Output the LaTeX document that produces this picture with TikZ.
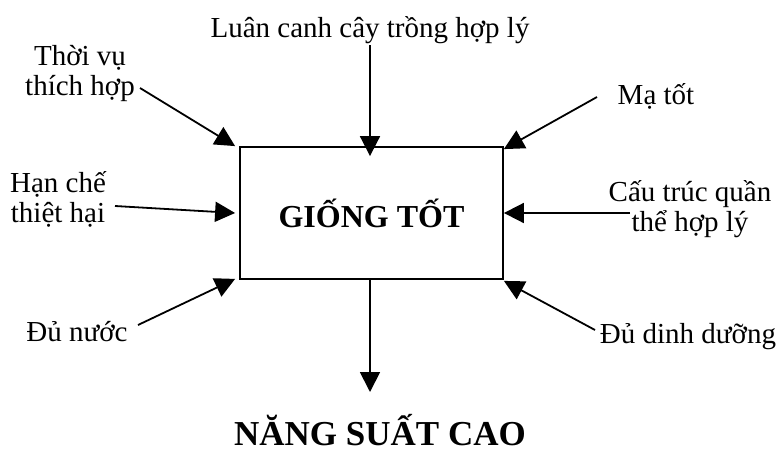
\documentclass[tikz,border=0pt]{standalone}
\usepackage{fontspec}
\setmainfont{Liberation Serif}
\usetikzlibrary{arrows.meta}
\begin{document}
\begin{tikzpicture}[x=1pt,y=-1pt,
  lbl/.style={inner sep=0pt,align=center,font=\fontsize{29}{30}\selectfont},
  arr/.style={line width=1.8pt,-{Triangle[length=20pt,width=20pt]}},
  mainbox/.style={draw,line width=1.8pt,minimum width=263pt,minimum height=132pt,inner sep=0pt,
    font=\fontsize{32}{34}\selectfont\bfseries}]
\useasboundingbox (0,0) rectangle (778,455);
\node[mainbox] (box) at (371.5,213) {GIỐNG TỐT};
\node[lbl] (luan) at (370,30) {Luân canh cây trồng hợp lý};
\node[lbl] (thoivu) at (80,74) {Thời vụ\\thích hợp};
\node[lbl] (hanche) at (58,199) {Hạn chế\\thiệt hại};
\node[lbl] (du) at (77,332) {Đủ nước};
\node[lbl] (mato) at (656,96) {Mạ tốt};
\node[lbl] (cautruc) at (690,209) {Cấu trúc quần\\thể hợp lý};
\node[lbl] (dinh) at (688,337) {Đủ dinh dưỡng};
\node[inner sep=0pt,anchor=base,font=\fontsize{35}{38}\selectfont\bfseries] (nang) at (380,445) {NĂNG SUẤT CAO};
\coordinate (s1) at (140,88);
\coordinate (s2) at (115,206);
\coordinate (s3) at (138,325);
\coordinate (s4) at (597,97);
\coordinate (s5) at (630,213);
\coordinate (s6) at (595,330);
\coordinate (e0) at (370,392);
\draw[arr] (luan.south |- 0,45) -- ([yshift=-10pt]box.north -| luan.south);
\draw[arr] (s1) -- ([shift={(-4pt,0pt)}]box.north west);
\draw[arr] (s2) -- ([xshift=-4pt]box.west);
\draw[arr] (s3) -- ([shift={(-4pt,1pt)}]box.south west);
\draw[arr] (s4) -- ([yshift=-3pt]box.north east);
\draw[arr] (s5) -- (box.east);
\draw[arr] (s6) -- ([yshift=-1pt]box.south east);
\draw[arr] (box.south -| e0) -- (e0);
\end{tikzpicture}
\end{document}
